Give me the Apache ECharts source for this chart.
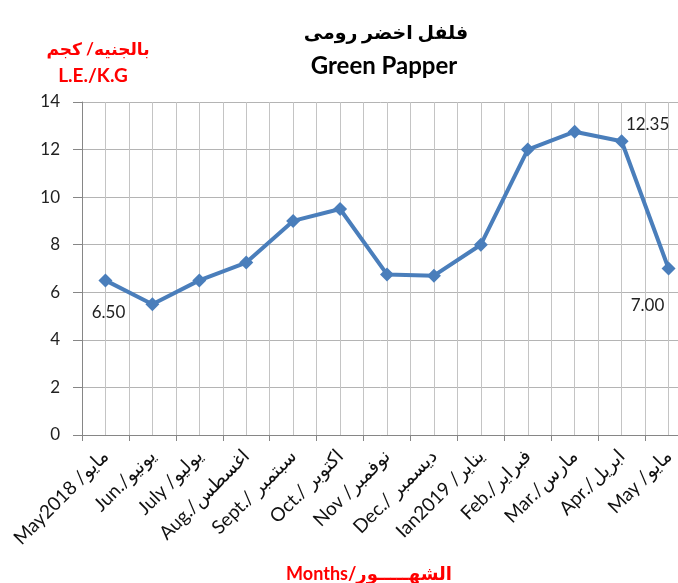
<!DOCTYPE html>
<html>
<head>
<meta charset="utf-8">
<script src="https://cdn.jsdelivr.net/npm/echarts@6/dist/echarts.min.js"></script>
<style>
  html, body { margin: 0; padding: 0; background: #fff; }
  #chart { width: 678px; height: 583px; }
</style>
</head>
<body>
<div id="chart"></div>
<script>
// month labels (English / Arabic) as printed under the axis
const months = [
  'May2018 /مايو', 'Jun./يونيو', 'July /يوليو', 'Aug./اغسطس', 'Sept./ سبتمبر',
  'Oct./ اكتوبر', 'Nov /نوفمبر', 'Dec./ ديسمبر', 'Ian2019 /يناير', 'Feb./فبراير',
  'Mar./مارس', 'Apr./ابريل', 'May /مايو'
]
// price in L.E./K.G
const prices = [6.5, 5.5, 6.5, 7.25, 9.0, 9.5, 6.75, 6.7, 8.0, 12.0, 12.75, 12.35, 7.0]
const yTicks = [0, 2, 4, 6, 8, 10, 12, 14]

const font = 'Lato, "DejaVu Sans", sans-serif'
const lineColor = '#4a7ebb'

// only three points carry a value label in the original
const labelFor = {
  0: { position: 'bottom', offset: [3, 12] },
  11: { position: 'top', offset: [26, 4] },
  12: { position: 'bottom', offset: [-21, 17] },
}

const seriesData = prices.map((v, i) => {
  const cfg = labelFor[i]
  if (!cfg) return v
  return {
    value: v,
    label: {
      show: true,
      position: cfg.position,
      offset: cfg.offset,
      formatter: (p) => p.value.toFixed(2),
    },
  }
})

const chart = echarts.init(document.getElementById('chart'))

chart.setOption({
  animation: false,
  title: [
    {
      text: 'فلفل اخضر رومى',
      left: 381,
      top: 18,
      textAlign: 'center',
      textStyle: { fontFamily: font, fontSize: 19, fontWeight: 'bold', color: '#000' },
    },
    {
      text: 'Green Papper',
      left: 379,
      top: 49,
      textAlign: 'center',
      textStyle: { fontFamily: font, fontSize: 24, fontWeight: 'bold', color: '#000' },
    },
    {
      text: 'بالجنيه/ كجم',
      left: 93,
      top: 36,
      textAlign: 'center',
      textStyle: { fontFamily: font, fontSize: 17, fontWeight: 'bold', color: '#ff0000' },
    },
    {
      text: 'L.E./K.G',
      left: 88,
      top: 61,
      textAlign: 'center',
      textStyle: { fontFamily: font, fontSize: 19, fontWeight: 'bold', color: '#ff0000' },
    },
    {
      text: 'Months/الشهـــــور',
      left: 364,
      top: 560,
      textAlign: 'center',
      textStyle: { fontFamily: font, fontSize: 18, fontWeight: 'bold', color: '#ff0000' },
    },
  ],
  grid: {
    left: 82,
    top: 102,
    width: 610,
    bottom: 148,
    outerBoundsMode: 'none',
  },
  xAxis: [
    {
      type: 'category',
      data: months,
      boundaryGap: true,
      axisLine: { lineStyle: { color: '#868686', width: 1 } },
      axisTick: { show: true, length: 6, lineStyle: { color: '#868686' } },
      axisLabel: {
        rotate: 45,
        interval: 0,
        margin: 18,
        fontFamily: font,
        fontSize: 19,
        color: '#111',
      },
      splitLine: { show: false },
    },
    {
      // helper axis: gridlines at every half category
      type: 'value',
      min: -0.5,
      max: 12.5,
      interval: 0.5,
      position: 'top',
      axisLine: { show: false },
      axisTick: { show: false },
      axisLabel: { show: false },
      splitLine: { show: true, lineStyle: { color: '#c4c4c4', width: 1 } },
    },
  ],
  yAxis: {
    type: 'value',
    min: yTicks[0],
    max: yTicks[yTicks.length - 1],
    interval: 2,
    axisLine: { show: true, onZero: false, lineStyle: { color: '#868686', width: 1 } },
    axisTick: { show: true, length: 9, lineStyle: { color: '#868686' } },
    axisLabel: {
      margin: 22,
      fontFamily: font,
      fontSize: 17,
      color: '#222',
    },
    splitLine: { show: true, lineStyle: { color: '#b4b4b4', width: 1 } },
  },
  series: [
    {
      type: 'line',
      xAxisIndex: 0,
      data: seriesData,
      symbol: 'diamond',
      symbolSize: 14,
      itemStyle: { color: lineColor },
      lineStyle: { color: lineColor, width: 4 },
      label: {
        show: false,
        fontFamily: font,
        fontSize: 17,
        color: '#222',
      },
    },
  ],
})
</script>
</body>
</html>
